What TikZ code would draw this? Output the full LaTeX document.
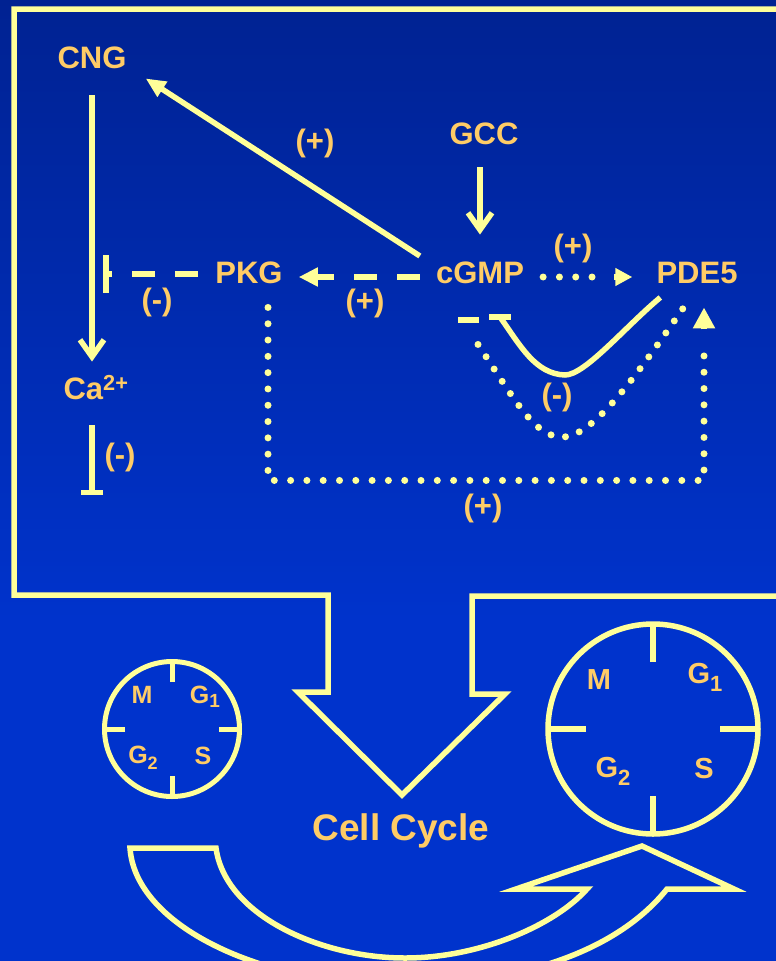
\documentclass[tikz,border=0pt]{standalone}
\usepackage{fontspec}
\setmainfont{Liberation Sans}
\usepackage{xcolor}
\usepackage{tikz}
\usetikzlibrary{arrows.meta,calc}
\definecolor{bgtop}{RGB}{0,34,146}
\definecolor{bgbot}{RGB}{0,51,204}
\definecolor{linec}{RGB}{255,255,153}
\definecolor{txtc}{RGB}{255,204,102}
\newcommand{\lowidx}[3]{\raisebox{-#1}{\fontsize{#2}{#2}\selectfont\bfseries #3}}

\begin{document}
\begin{tikzpicture}[x=1bp, y=-1bp,
    ln/.style={draw=linec, line width=5.5bp},
    dots/.style={draw=linec, line width=7bp, line cap=round, dash pattern=on 0bp off 16.3bp},
    dashes/.style={draw=linec, line width=5.5bp, dash pattern=on 23bp off 20bp},
    lbl/.style={text=txtc, inner sep=0pt, font=\fontsize{31bp}{31bp}\selectfont\bfseries},
    mol/.style={lbl, text height=22.5bp, text depth=0pt},
    cyc/.style={lbl, anchor=base, font=\fontsize{25bp}{25bp}\selectfont\bfseries},
    cycbig/.style={lbl, anchor=base, font=\fontsize{29bp}{29bp}\selectfont\bfseries},
    barb/.style={-{Straight Barb[length=17bp,width=24bp]}},
    tri/.style={-{Triangle[length=19bp,width=18bp]}}]
    \useasboundingbox (0,0) rectangle (776,961);
    \clip (0,0) rectangle (776,961);
    \fill[bgbot] (0,0) rectangle (776,961);
    \shade[top color=bgtop, bottom color=bgbot] (0,0) rectangle (776,620);

    \draw[ln, line join=miter] (776,9) -- (14,9) -- (14,595) -- (328,595) -- (328,692) -- (298,692)
        -- (402,795) -- (505,694) -- (472,694) -- (472,596) -- (776,596);

    \node[mol] (cng) at (92,57) {CNG};
    \node[mol] (gcc) at (484,133) {GCC};
    \node[mol] (cgmp) at (480,272) {cGMP};
    \node[mol] (pde) at (697,272) {PDE5};
    \node[mol] (pkg) at (249,272) {PKG};
    \node[mol] (ca) at (96,388) {Ca\textsuperscript{2+}};

    \draw[ln, barb, shorten <=27bp, shorten >=15bp] (cng.south) -- (cng.south |- ca.north);
    \draw[ln, barb, shorten <=23bp, shorten >=26bp] (cgmp.north |- gcc.south) -- (cgmp.north);
    \draw[ln, -{Triangle[length=20bp,width=17bp]}] ([shift={(-16,-16)}]cgmp.west) -- ([shift={(19,10)}]cng.south east);
    \draw[dashes, tri] ([shift={(-16,5)}]cgmp.west) -- ([shift={(16,5)}]pkg.east);
    \draw[dashes, -{Bar[width=38bp]}] ([shift={(-17,2)}]pkg.west) -- ++(-95,0);
    \draw[dots] ([shift={(19,5)}]cgmp.east) -- ++(51,0);
    \draw[ln, -{Triangle[length=17bp,width=17bp]}] ([shift={(-42,5)}]pde.west) -- ([shift={(-24,5)}]pde.west);
    \draw[ln, -{Bar[width=22bp]}] ([shift={(-4,26)}]ca.south) -- ++(0,70);

    \coordinate (inh) at (500,317);
    \draw[ln] ([shift={(4,14)}]pde.south west) .. controls (625,327) and (585,375) .. (565,375)
        .. controls (535,374) and (520,345) .. (inh);
    \draw[ln] (inh) ++(-11,0) -- ++(22,0);
    \draw[ln] (458,320) -- (479,320);
    \draw[dots, dash pattern=on 0bp off 14.7bp] ([shift={(-2,61)}]cgmp.south) .. controls (515,400) and (535,438) .. (563,437)
        .. controls (595,436) and (640,370) .. ([shift={(-14,25)}]pde.south);
    \draw[dots] ([shift={(19,24)}]pkg.south) -- ++(0,173) -| ([shift={(7,58)}]pde.south);
    \draw[ln, -{Triangle[length=21bp,width=21bp]}] ([shift={(7,46)}]pde.south) -- ([shift={(7,24)}]pde.south);

    \node[lbl] (p1) at (315,143) {(+)};
    \node[lbl] (m1) at (157,302) {(-)};
    \node[lbl] (p2) at (365,303) {(+)};
    \node[lbl] (p3) at (573,248) {(+)};
    \node[lbl] (m2) at (557,397) {(-)};
    \node[lbl] (m3) at (120,457) {(-)};
    \node[lbl] (p4) at (483,508) {(+)};

    \node[draw=linec, line width=5bp, circle, minimum size=135bp, inner sep=0pt] (sc) at (172,729) {};
    \foreach \a in {0,90,180,270}
        \draw[ln, line width=5bp] ($(sc.center)+(\a:47)$) -- ($(sc.center)+(\a:67.5)$);
    \node[cyc] (sm) at (142,703) {M};
    \node[cyc] (sg1) at (205,703) {G\lowidx{4bp}{19bp}{1}};
    \node[cyc] (sg2) at (143,763) {G\lowidx{6bp}{18bp}{2}};
    \node[cyc] (ss) at (203,764) {S};

    \node[draw=linec, line width=5.5bp, circle, minimum size=210bp, inner sep=0pt] (bc) at (653,729) {};
    \foreach \a in {0,90,180,270}
        \draw[ln] ($(bc.center)+(\a:67)$) -- ($(bc.center)+(\a:105)$);
    \node[cycbig] (bm) at (599,689) {M};
    \node[cycbig] (bg1) at (705,683) {G\lowidx{8bp}{22bp}{1}};
    \node[cycbig] (bg2) at (613,777) {G\lowidx{8bp}{22bp}{2}};
    \node[cycbig] (bs) at (704,778) {S};

    \node[lbl, anchor=base, font=\fontsize{37bp}{37bp}\selectfont\bfseries] (cell) at (401,840) {Cell Cycle};

    \draw[ln, line join=miter] (130,848) -- (216,848) .. controls (225,915) and (320,958) .. (405,958)
        .. controls (480,958) and (555,925) .. (587,889) -- (516,889) -- (642,846) -- (734,889) -- (667,889)
        .. controls (610,960) and (500,985) .. (400,985) .. controls (260,985) and (135,925) .. cycle;
\end{tikzpicture}
\end{document}
